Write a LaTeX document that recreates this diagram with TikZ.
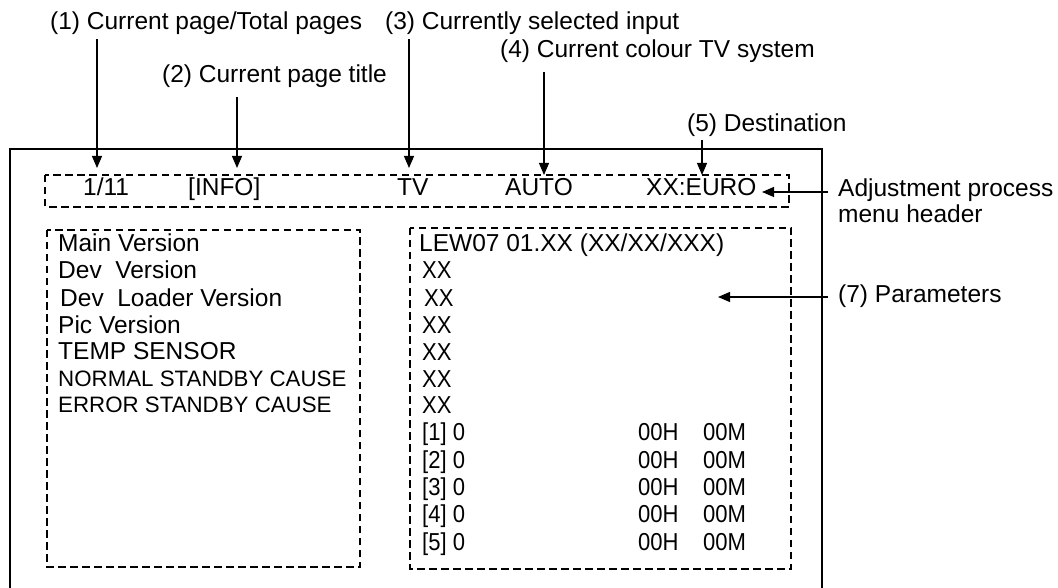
\documentclass[tikz,border=0pt]{standalone}
\usepackage{fontspec}
\setmainfont{Liberation Sans}
\usetikzlibrary{arrows.meta}
\begin{document}
\begin{tikzpicture}[x=1pt,y=-1pt,
  lbl/.style={anchor=base west, inner sep=0pt, font=\fontsize{24.5}{28}\selectfont},
  sm/.style={anchor=base west, inner sep=0pt, font=\fontsize{22.3}{26}\selectfont},
  cond/.style={anchor=base west, inner sep=0pt, font=\fontsize{24.5}{28}\selectfont, xscale=0.9, transform shape},
  frameline/.style={line width=1.6pt},
  dbox/.style={line width=1.8pt, dash pattern=on 7.5pt off 4.5pt},
  arr/.style={line width=1.1pt, -{Triangle[length=12pt,width=10pt]}}]
\useasboundingbox (0,0) rectangle (1058,588);
% outer frame (open at bottom)
\draw[frameline] (10,588) -- (10,149) -- (822,149) -- (822,588);
% dashed boxes
\draw[dbox] (45,175) rectangle (789,207);
\draw[dbox] (47,230) rectangle (360,567);
\draw[dbox] (410,228) rectangle (791,569);
% top labels
\node[lbl] (l1) at (50,30) {(1) Current page/Total pages};
\node[lbl] (l3) at (385,30) {(3) Currently selected input};
\node[lbl] (l4) at (500,58) {(4) Current colour TV system};
\node[lbl] (l2) at (162,83) {(2) Current page title};
\node[lbl] (l5) at (687,132) {(5) Destination};
% header texts
\node[lbl] (h1) at (83,196) {1/11};
\node[lbl] (h2) at (188,196) {[INFO]};
\node[lbl] (h3) at (397,196) {TV};
\node[lbl] (h4) at (505,196) {AUTO};
\node[lbl] (h5) at (646,196) {XX:EURO};
% right labels
\node[lbl] (adj1) at (838,197) {Adjustment process};
\node[lbl] (adj2) at (838,223) {menu header};
\node[lbl] (par) at (838,302) {(7) Parameters};
% left box texts
\node[lbl] (m1) at (58,252) {Main Version};
\node[lbl] (m2) at (58,279) {Dev\ \ Version};
\node[lbl] (m3) at (60,306) {Dev\ \ Loader Version};
\node[lbl] (m4) at (58,333) {Pic Version};
\node[lbl] (m5) at (58,359) {TEMP SENSOR};
\node[sm] (m6) at (58,386) {NORMAL STANDBY CAUSE};
\node[sm] (m7) at (58,412) {ERROR STANDBY CAUSE};
% right box texts
\node[lbl] (r0) at (419,252) {LEW07 01.XX (XX/XX/XXX)};
\node[cond] (r1) at (422,279) {XX};
\node[cond] (r2) at (424,306) {XX};
\node[cond] (r3) at (422,333) {XX};
\node[cond] (r4) at (422,360) {XX};
\node[cond] (r5) at (422,387) {XX};
\node[cond] (r6) at (422,413) {XX};
\foreach \k/\yy in {1/440,2/468,3/495,4/522,5/550}{
  \node[cond] (p\k) at (422,\yy) {[\k] 0};
  \node[cond] (ph\k) at (638,\yy) {00H};
  \node[cond] (pm\k) at (703,\yy) {00M};
}
% arrow coordinates
\coordinate (s1) at (97,39);   \coordinate (t1) at (97,168);
\coordinate (s2) at (237,97);  \coordinate (t2) at (237,168);
\coordinate (s3) at (409,39);  \coordinate (t3) at (409,168);
\coordinate (s4) at (544,72);  \coordinate (t4) at (544,175);
\coordinate (s5) at (702,140); \coordinate (t5) at (702,175);
\coordinate (s6) at (828,192); \coordinate (t6) at (762,192);
\coordinate (s7) at (828,297); \coordinate (t7) at (718,297);
\draw[arr] (s1) -- (t1);
\draw[arr] (s2) -- (t2);
\draw[arr] (s3) -- (t3);
\draw[arr] (s4) -- (t4);
\draw[arr] (s5) -- (t5);
\draw[arr] (s6) -- (t6);
\draw[arr] (s7) -- (t7);
\end{tikzpicture}
\end{document}
